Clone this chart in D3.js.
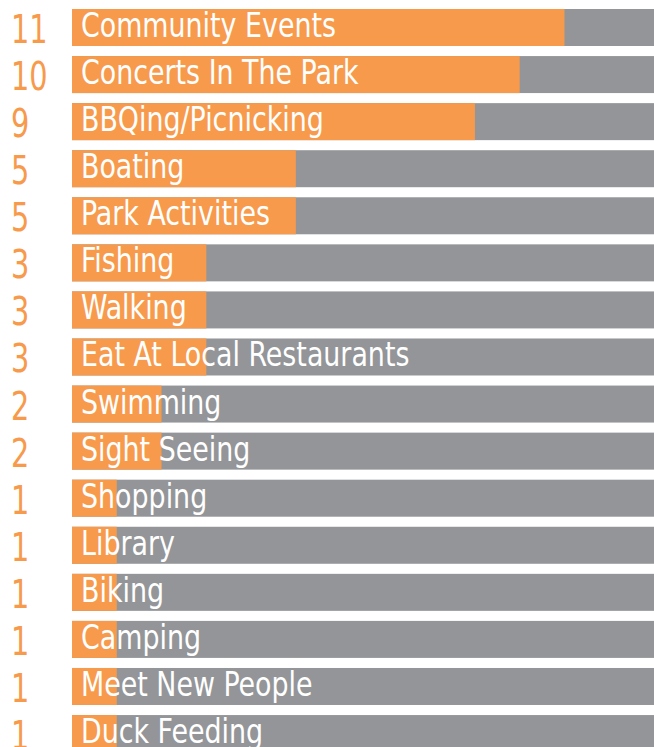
<!DOCTYPE html>
<html>
<head>
<meta charset="utf-8">
<script src="https://cdn.jsdelivr.net/npm/d3@7"></script>
<style>
  html, body { margin: 0; padding: 0; background: #ffffff; }
  svg { display: block; }
  .label { font-family: "DejaVu Sans Condensed", "DejaVu Sans", sans-serif; }
</style>
</head>
<body>
<svg id="chart" width="654" height="747"></svg>
<script>
// Activities and how many respondents named each one
const activities = [
  "Community Events", "Concerts In The Park", "BBQing/Picnicking", "Boating",
  "Park Activities", "Fishing", "Walking", "Eat At Local Restaurants",
  "Swimming", "Sight Seeing", "Shopping", "Library", "Biking",
  "Camping", "Meet New People", "Duck Feeding"
];
const counts = [11, 10, 9, 5, 5, 3, 3, 3, 2, 2, 1, 1, 1, 1, 1, 1];

const orange = "#f79a4c";
const gray = "#939598";

const svg = d3.select("#chart");
const barLeft = 72, barRight = 654;
const rowStep = 47.07, barHeight = 37;

const x = d3.scaleLinear().domain([0, 13]).range([barLeft, barRight]);
const y = d3.scaleBand()
  .domain(activities)
  .range([9, 9 + rowStep * (activities.length - 1) + barHeight])
  .paddingInner((rowStep - barHeight) / rowStep)
  .paddingOuter(0);

const rows = svg.selectAll("g.row")
  .data(activities.map((a, i) => ({ name: a, value: counts[i] })))
  .join("g")
  .attr("class", "row")
  .attr("transform", d => `translate(0,${y(d.name)})`);

// full-width track
rows.append("rect")
  .attr("x", barLeft)
  .attr("width", barRight - barLeft)
  .attr("height", y.bandwidth())
  .attr("fill", gray);

// value bar
rows.append("rect")
  .attr("x", barLeft)
  .attr("width", d => x(d.value) - barLeft)
  .attr("height", y.bandwidth())
  .attr("fill", orange);

// count at the left (narrowed to a condensed look)
rows.append("text")
  .attr("class", "label")
  .attr("transform", `translate(11,${y.bandwidth() - 3}) scale(0.82,1)`)
  .attr("font-size", 39)
  .attr("fill", orange)
  .text(d => d.value);

// activity name inside the bar
rows.append("text")
  .attr("class", "label")
  .attr("transform", `translate(81,${y.bandwidth() - 9}) scale(0.905,1)`)
  .attr("font-size", 33)
  .attr("fill", "#ffffff")
  .text(d => d.name);
</script>
</body>
</html>
